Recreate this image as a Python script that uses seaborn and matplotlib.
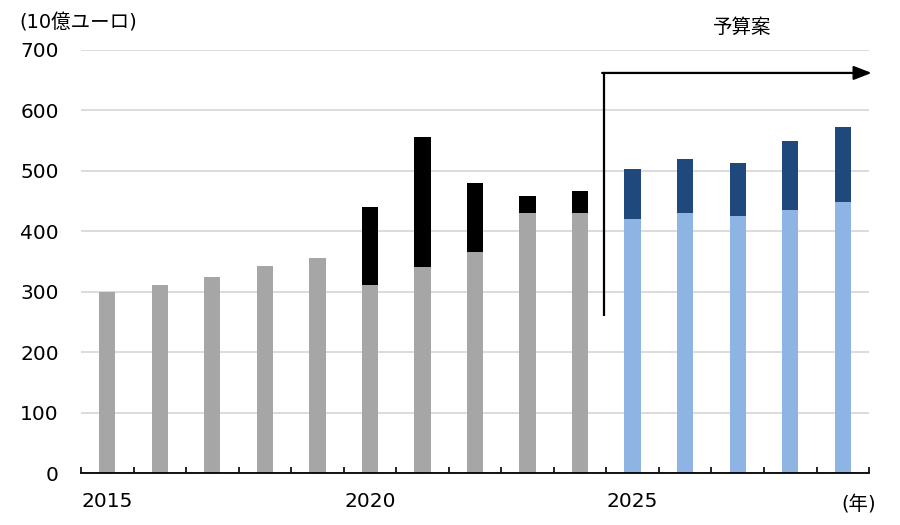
import matplotlib
matplotlib.use("Agg")
import matplotlib.pyplot as plt
import seaborn as sns
import pandas as pd
import numpy as np

# ---- data ----
years = [str(y) for y in range(2015, 2030)]
base_values = [299, 311, 325, 343, 355, 311, 341, 366, 430, 431, 420, 430, 425, 435, 448]
total_values = [299, 311, 325, 343, 355, 441, 556, 480, 458, 466, 503, 519, 513, 549, 573]
period = ["実績"] * 10 + ["予算案"] * 5
xtick_labels = {"2015": "2015", "2020": "2020", "2025": "2025"}
yticks = [0, 100, 200, 300, 400, 500, 600, 700]

base_colors = {"実績": "#A6A6A6", "予算案": "#8DB4E2"}
top_colors = {"実績": "#000000", "予算案": "#1F497D"}

df = pd.DataFrame({"year": years, "base": base_values, "total": total_values, "period": period})

sns.set_theme(style="white")
plt.rcParams["font.family"] = ["DejaVu Sans", "Noto Sans CJK JP"]

fig = plt.figure(figsize=(9, 5.25), dpi=100)
ax = fig.add_axes([0.09, 0.099, 0.8756, 0.8058])

sns.barplot(data=df, x="year", y="total", hue="period", palette=top_colors,
            dodge=False, width=0.31, legend=False, ax=ax, saturation=1, order=years)
sns.barplot(data=df, x="year", y="base", hue="period", palette=base_colors,
            dodge=False, width=0.31, legend=False, ax=ax, saturation=1, order=years)
for p in ax.patches:
    p.set_linewidth(0)

ax.set_xlim(-0.5, len(years) - 0.5)
ax.set_ylim(0, 700)
ax.set_yticks(yticks)
ax.set_yticklabels([str(v) for v in yticks])
ax.yaxis.grid(True, color="#D9D9D9", linewidth=1.3)
ax.set_axisbelow(True)

pos = [years.index(k) for k in xtick_labels]
ax.set_xticks(pos)
ax.set_xticklabels(list(xtick_labels.values()))
ax.set_xticks(np.arange(-0.5, len(years), 1.0), minor=True)
ax.tick_params(axis="x", which="major", length=0, pad=14, labelsize=14.5, colors="#000000")
ax.tick_params(axis="x", which="minor", direction="in", length=4, width=1.2, color="#000000", bottom=True)
ax.tick_params(axis="y", length=0, pad=16, labelsize=14.5, colors="#000000")

for s in ["top", "right", "left"]:
    ax.spines[s].set_visible(False)
ax.spines["bottom"].set_color("#000000")
ax.spines["bottom"].set_linewidth(1.3)

ax.set_xlabel("")
ax.set_ylabel("")

# unit labels
fig.text(0.022, 0.957, "(10億ユーロ)", fontsize=14, ha="left", va="center", color="#000000")
ax.text(14.3, -52, "(年)", fontsize=14, ha="center", va="center", color="#000000", clip_on=False)

# budget arrow
ax.plot([9.45, 9.45], [260, 662], color="#000000", linewidth=1.6, solid_capstyle="butt", clip_on=False)
ax.annotate("", xy=(14.55, 662), xytext=(9.42, 662),
            arrowprops=dict(arrowstyle="-|>,head_length=0.9,head_width=0.35", color="#000000", lw=1.6,
                            shrinkA=0, shrinkB=0), annotation_clip=False)
ax.text(12.08, 737, "予算案", fontsize=14, ha="center", va="center", color="#000000", clip_on=False,
        family=["Noto Sans CJK JP", "DejaVu Sans"])

fig.savefig("out.png", dpi=100)
